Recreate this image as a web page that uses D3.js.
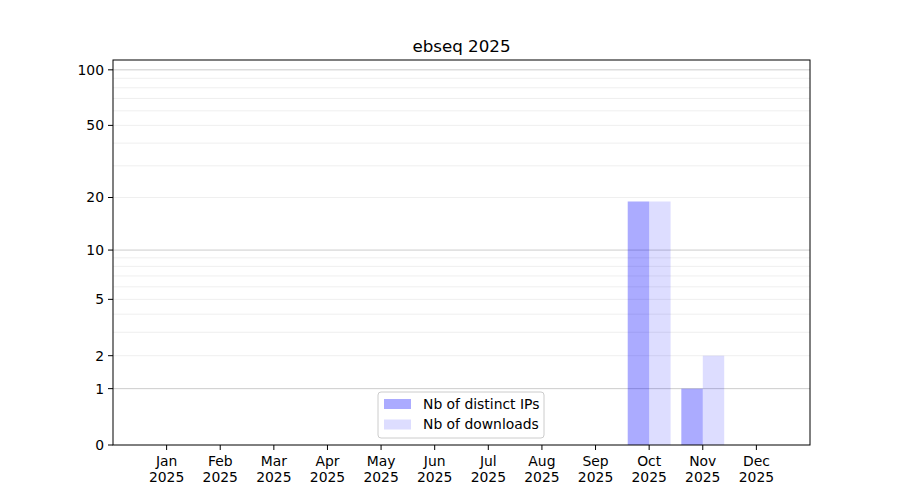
<!DOCTYPE html>
<html>
<head>
<meta charset="utf-8">
<script src="https://cdn.jsdelivr.net/npm/d3@7"></script>
<style>
    body { margin: 0; background: #fff; }
    svg { font-family: "DejaVu Sans", sans-serif; }
</style>
</head>
<body>
<div id="chart"></div>
<script>
// Data
const months = ["Jan", "Feb", "Mar", "Apr", "May", "Jun", "Jul", "Aug", "Sep", "Oct", "Nov", "Dec"];
const year = "2025";
const distinctIPs = [0, 0, 0, 0, 0, 0, 0, 0, 0, 19, 1, 0];
const downloads = [0, 0, 0, 0, 0, 0, 0, 0, 0, 19, 2, 0];
const yTicks = [0, 1, 2, 5, 10, 20, 50, 100];
const yMajorGrid = [1, 10, 100];
const yMinorGrid = [2, 3, 4, 5, 6, 7, 8, 9, 20, 30, 40, 50, 60, 70, 80, 90];
const yMax = 113;
const title = "ebseq 2025";

// Size
const width = 900, height = 500;
const margin = {left: 113, right: 90, top: 60, bottom: 55};
const fontSize = "13.9px";

const svg = d3.select("#chart").append("svg")
    .attr("width", width)
    .attr("height", height);

// Scales (log(1+x) on y)
const x = d3.scaleLinear()
    .domain([-1, 12])
    .range([margin.left, width - margin.right]);

const tf = v => Math.log10(1 + v);
const yLin = d3.scaleLinear()
    .domain([0, tf(yMax)])
    .range([height - margin.bottom, margin.top]);
const y = v => yLin(tf(v));

// Grid
svg.append("g")
    .selectAll("line")
    .data(yMinorGrid)
    .join("line")
    .attr("x1", margin.left).attr("x2", width - margin.right)
    .attr("y1", d => y(d)).attr("y2", d => y(d))
    .attr("stroke", "#ebebeb")
    .attr("stroke-width", 0.8);

svg.append("g")
    .selectAll("line")
    .data(yMajorGrid)
    .join("line")
    .attr("x1", margin.left).attr("x2", width - margin.right)
    .attr("y1", d => y(d)).attr("y2", d => y(d))
    .attr("stroke", "#cccccc")
    .attr("stroke-width", 1);

// Bars
const barW = 0.4;
svg.append("g")
    .selectAll("rect")
    .data(distinctIPs)
    .join("rect")
    .attr("x", (d, i) => x(i - barW))
    .attr("width", x(barW) - x(0))
    .attr("y", d => y(d))
    .attr("height", d => y(0) - y(d))
    .attr("fill", "blue")
    .attr("fill-opacity", 0.33);

svg.append("g")
    .selectAll("rect")
    .data(downloads)
    .join("rect")
    .attr("x", (d, i) => x(i))
    .attr("width", x(barW) - x(0))
    .attr("y", d => y(d))
    .attr("height", d => y(0) - y(d))
    .attr("fill", "blue")
    .attr("fill-opacity", 0.134);

// Frame
svg.append("rect")
    .attr("x", margin.left)
    .attr("y", margin.top)
    .attr("width", width - margin.left - margin.right)
    .attr("height", height - margin.top - margin.bottom)
    .attr("fill", "none")
    .attr("stroke", "black")
    .attr("stroke-width", 1);

// Y axis
const yAxis = svg.append("g");
yAxis.selectAll("line")
    .data(yTicks)
    .join("line")
    .attr("x1", margin.left - 5).attr("x2", margin.left)
    .attr("y1", d => y(d)).attr("y2", d => y(d))
    .attr("stroke", "black");
yAxis.selectAll("text")
    .data(yTicks)
    .join("text")
    .attr("x", margin.left - 9)
    .attr("y", d => y(d))
    .attr("dy", "0.35em")
    .attr("text-anchor", "end")
    .style("font-size", fontSize)
    .text(d => d);

// X axis
const xAxis = svg.append("g");
xAxis.selectAll("line")
    .data(months)
    .join("line")
    .attr("x1", (d, i) => x(i)).attr("x2", (d, i) => x(i))
    .attr("y1", height - margin.bottom).attr("y2", height - margin.bottom + 5)
    .attr("stroke", "black");
const xLabels = xAxis.selectAll("text")
    .data(months)
    .join("text")
    .attr("text-anchor", "middle")
    .style("font-size", fontSize)
    .attr("transform", (d, i) => `translate(${x(i)},${height - margin.bottom + 21})`);
xLabels.append("tspan").attr("x", 0).attr("y", 0).text(d => d);
xLabels.append("tspan").attr("x", 0).attr("y", 16).text(year);

// Title
svg.append("text")
    .attr("x", (margin.left + width - margin.right) / 2)
    .attr("y", margin.top - 8)
    .attr("text-anchor", "middle")
    .style("font-size", "16.7px")
    .text(title);

// Legend
const legend = svg.append("g").attr("transform", "translate(378,392)");
legend.append("rect")
    .attr("width", 166).attr("height", 46)
    .attr("rx", 3)
    .attr("fill", "white").attr("fill-opacity", 0.8)
    .attr("stroke", "#cccccc");
const entries = [
    {label: "Nb of distinct IPs", opacity: 0.33},
    {label: "Nb of downloads", opacity: 0.134}
];
entries.forEach((e, i) => {
    legend.append("rect")
        .attr("x", 6).attr("y", 7 + i * 20.5)
        .attr("width", 27).attr("height", 10)
        .attr("fill", "blue").attr("fill-opacity", e.opacity);
    legend.append("text")
        .attr("x", 45).attr("y", 12 + i * 20.5)
        .attr("dy", "0.35em")
        .style("font-size", fontSize)
        .text(e.label);
});
</script>
</body>
</html>
